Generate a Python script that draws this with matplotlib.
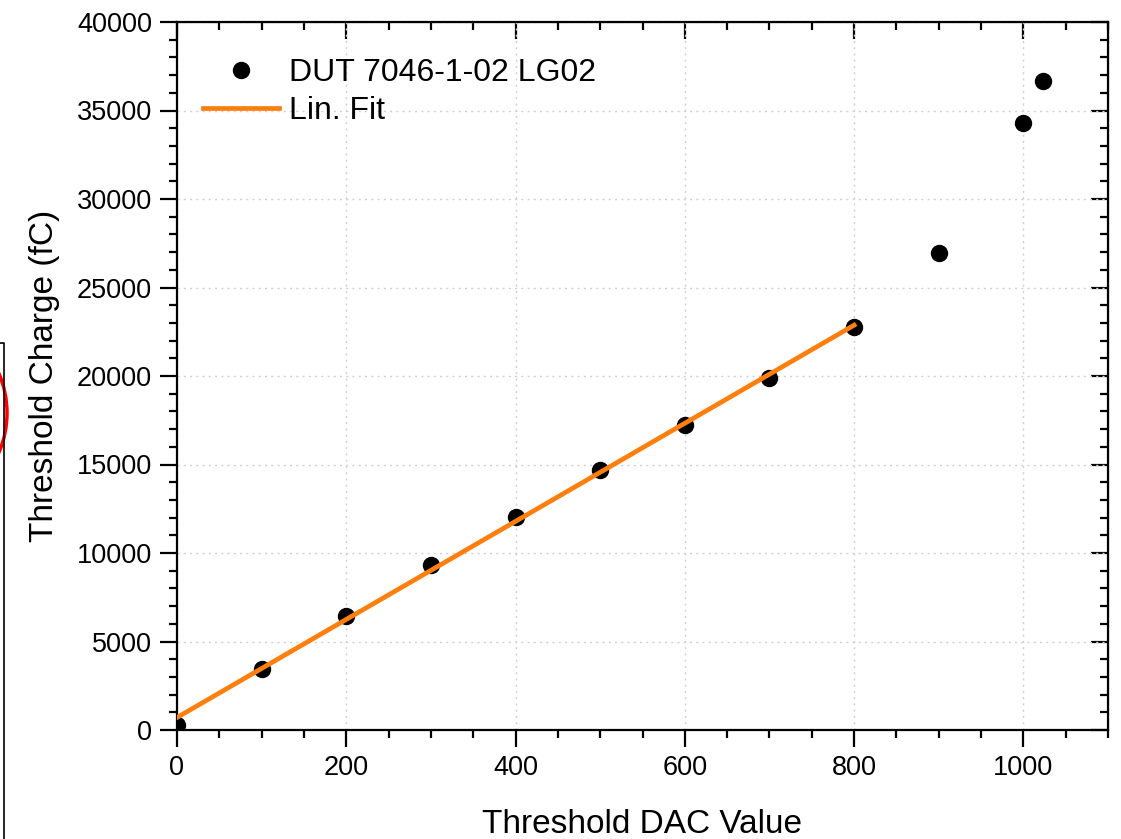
import matplotlib.pyplot as plt
import numpy as np
from matplotlib.patches import Circle
from matplotlib.lines import Line2D
from matplotlib.ticker import MultipleLocator

plt.rcParams['font.family'] = ['Liberation Sans', 'DejaVu Sans']

# measured points (DAC value vs threshold charge in fC)
dac = [0, 100, 200, 300, 400, 500, 600, 700, 800, 900, 1000, 1023]
charge = [280, 3450, 6440, 9320, 12030, 14690, 17230, 19890, 22770, 26950, 34290, 36670]
fit_max = 800
series_label = 'DUT 7046-1-02 LG02'
fit_label = 'Lin. Fit'

x = np.array(dac)
y = np.array(charge)
sel = x <= fit_max
slope, icpt = np.polyfit(x[sel], y[sel], 1)
xf = np.array([0, fit_max])

fig = plt.figure(figsize=(11.21, 8.39), dpi=100)
ax = fig.add_axes([177 / 1121, 1 - 730 / 839, (1108 - 177) / 1121, (730 - 22) / 839])

ax.plot(x, y, 'o', color='black', ms=11.5, label=series_label, zorder=3)
ax.plot(xf, slope * xf + icpt, '-', color='#ff7f0e', lw=3.4, label=fit_label, zorder=4)

ax.set_xlim(0, 1100)
ax.set_ylim(0, 40000)
ax.xaxis.set_major_locator(MultipleLocator(200))
ax.xaxis.set_minor_locator(MultipleLocator(50))
ax.yaxis.set_major_locator(MultipleLocator(5000))
ax.yaxis.set_minor_locator(MultipleLocator(1000))

ax.grid(True, which='major', color='#d0d0d0', ls=(0, (1.5, 3)), lw=1)
for s in ax.spines.values():
    s.set_linewidth(1.6)

ax.tick_params(which='both', direction='out', width=1.6, labelsize=19.5,
               top=False, right=False)
ax.tick_params(which='major', length=12, pad=6)
ax.tick_params(which='minor', length=6)

# mirrored inward ticks on top and right
axt = ax.secondary_xaxis('top')
axt.xaxis.set_major_locator(MultipleLocator(200))
axt.xaxis.set_minor_locator(MultipleLocator(50))
axt.tick_params(which='both', direction='in', width=1.6, labeltop=False)
axt.tick_params(which='major', length=12)
axt.tick_params(which='minor', length=6)
axr = ax.secondary_yaxis('right')
axr.yaxis.set_major_locator(MultipleLocator(5000))
axr.yaxis.set_minor_locator(MultipleLocator(1000))
axr.tick_params(which='both', direction='in', width=1.6, labelright=False)
axr.tick_params(which='major', length=12)
axr.tick_params(which='minor', length=6)

ax.set_xlabel('Threshold DAC Value', fontsize=24, labelpad=20)
ax.set_ylabel('Threshold Charge (fC)', fontsize=24, labelpad=12)

ax.legend(loc='upper left', frameon=False, fontsize=23, handlelength=2.4,
          handletextpad=0.3, labelspacing=0.25, borderaxespad=0.4,
          bbox_to_anchor=(0.0, 0.985))

# screenshot leftovers at the left edge
fig.add_artist(Line2D([0, 4 / 1121, 4 / 1121], [1 - 343 / 839, 1 - 343 / 839, 0],
                      transform=fig.transFigure, color='black', lw=1.2))
fig.add_artist(Circle((-94, 839 - 413), 101, transform=None, fill=False,
                      edgecolor='red', lw=2.5))

fig.savefig('out.png', dpi=100)
